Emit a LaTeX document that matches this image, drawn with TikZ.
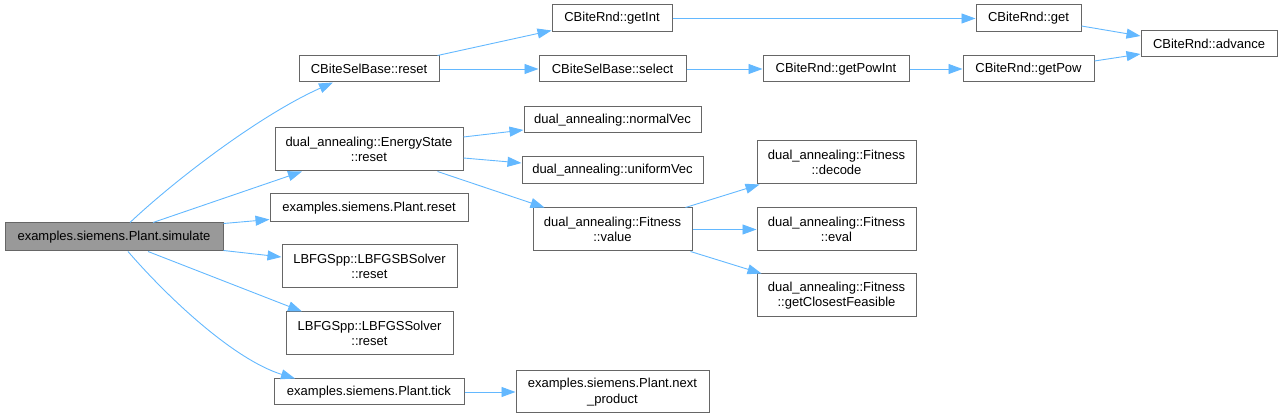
\documentclass[tikz,border=0pt]{standalone}
\usepackage{fontspec}
\setmainfont{Liberation Sans}
\usetikzlibrary{arrows.meta}
\definecolor{edgeblue}{HTML}{63B8FF}
\definecolor{boxborder}{HTML}{666666}
\definecolor{boxfill}{HTML}{999999}
\tikzset{
  box/.style={draw=boxborder, line width=1pt, fill=white, inner sep=0pt, align=center,
    font=\fontsize{13}{15.5}\selectfont},
  rootbox/.style={box, fill=boxfill},
  conn/.style={draw=edgeblue, line width=0.9pt, -{Triangle[length=14pt,width=10pt]}},
}
\begin{document}
\begin{tikzpicture}[x=1pt,y=-1pt]
\useasboundingbox (0,0) rectangle (1283,419);
% nodes
\node[rootbox, minimum width=218pt, minimum height=28pt] (sim) at (114,237) {examples.siemens.Plant.simulate};
\node[box, minimum width=140pt, minimum height=26pt] (csbr) at (369,69) {CBiteSelBase::reset};
\node[box, minimum width=188pt, minimum height=43pt] (esr) at (369,149.5) {dual\_annealing::EnergyState\\::reset};
\node[box, minimum width=198pt, minimum height=28pt] (pr) at (369,208) {examples.siemens.Plant.reset};
\node[box, minimum width=175pt, minimum height=43pt] (lbsb) at (369.5,266.5) {LBFGSpp::LBFGSBSolver\\::reset};
\node[box, minimum width=167pt, minimum height=43pt] (lbs) at (369.5,333.5) {LBFGSpp::LBFGSSolver\\::reset};
\node[box, minimum width=190pt, minimum height=26pt] (tick) at (369,392) {examples.siemens.Plant.tick};
\node[box, minimum width=120pt, minimum height=27pt] (getint) at (612,18.5) {CBiteRnd::getInt};
\node[box, minimum width=147pt, minimum height=26pt] (select) at (612.5,69) {CBiteSelBase::select};
\node[box, minimum width=177pt, minimum height=26pt] (normal) at (612.5,120) {dual\_annealing::normalVec};
\node[box, minimum width=181pt, minimum height=27pt] (uniform) at (612.5,170.5) {dual\_annealing::uniformVec};
\node[box, minimum width=159pt, minimum height=43pt] (value) at (612.5,229.5) {dual\_annealing::Fitness\\::value};
\node[box, minimum width=193pt, minimum height=42pt] (next) at (612.5,392) {examples.siemens.Plant.next\\\_product};
\node[box, minimum width=146pt, minimum height=26pt] (powint) at (836,69) {CBiteRnd::getPowInt};
\node[box, minimum width=159pt, minimum height=43pt] (decode) at (836.5,162.5) {dual\_annealing::Fitness\\::decode};
\node[box, minimum width=159pt, minimum height=43pt] (eval) at (836.5,229.5) {dual\_annealing::Fitness\\::eval};
\node[box, minimum width=159pt, minimum height=43pt] (gcf) at (836.5,295.5) {dual\_annealing::Fitness\\::getClosestFeasible};
\node[box, minimum width=105pt, minimum height=27pt] (get) at (1028.5,18.5) {CBiteRnd::get};
\node[box, minimum width=131pt, minimum height=26pt] (getpow) at (1028.5,69) {CBiteRnd::getPow};
\node[box, minimum width=136pt, minimum height=26pt] (adv) at (1209,44) {CBiteRnd::advance};
% edges
\draw[conn] ([xshift=16pt]sim.north) .. controls (175,180) and (260,115) .. ([xshift=-36pt]csbr.south);
\draw[conn] ([xshift=39pt]sim.north) -- ([xshift=-67pt]esr.south);
\draw[conn] ([yshift=-1pt]sim.north east) -- ([yshift=3pt]pr.south west);
\draw[conn] ([yshift=1pt]sim.south east) -- ([yshift=9.5pt]lbsb.west);
\draw[conn] ([xshift=34pt]sim.south) -- ([xshift=-67.5pt]lbs.north);
\draw[conn] ([xshift=14pt]sim.south) .. controls (170,300) and (235,360) .. ([xshift=-74pt]tick.north);
\draw[conn] (tick.east) -- (next.west);
\draw[conn] ([xshift=-2pt]csbr.north east) -- ([yshift=2pt]getint.south west);
\draw[conn] (csbr.east) -- (select.west);
\draw[conn] (getint.east) -- (get.west);
\draw[conn] (select.east) -- (powint.west);
\draw[conn] (powint.east) -- (getpow.west);
\draw[conn] ([yshift=-7.5pt]get.east) -- ([yshift=8pt]adv.west);
\draw[conn] ([yshift=8pt]getpow.east) -- ([yshift=-10pt]adv.west);
\draw[conn] ([yshift=12.5pt]esr.east) -- ([yshift=-10pt]normal.west);
\draw[conn] ([yshift=-8.5pt]esr.east) -- ([yshift=7.5pt]uniform.west);
\draw[conn] ([xshift=-26pt]esr.south east) -- ([xshift=12pt]value.north west);
\draw[conn] ([xshift=-7pt]value.north east) -- ([xshift=3pt]decode.south west);
\draw[conn] (value.east) -- (eval.west);
\draw[conn] ([xshift=-2pt]value.south east) -- ([xshift=5pt]gcf.north west);
\end{tikzpicture}
\end{document}
